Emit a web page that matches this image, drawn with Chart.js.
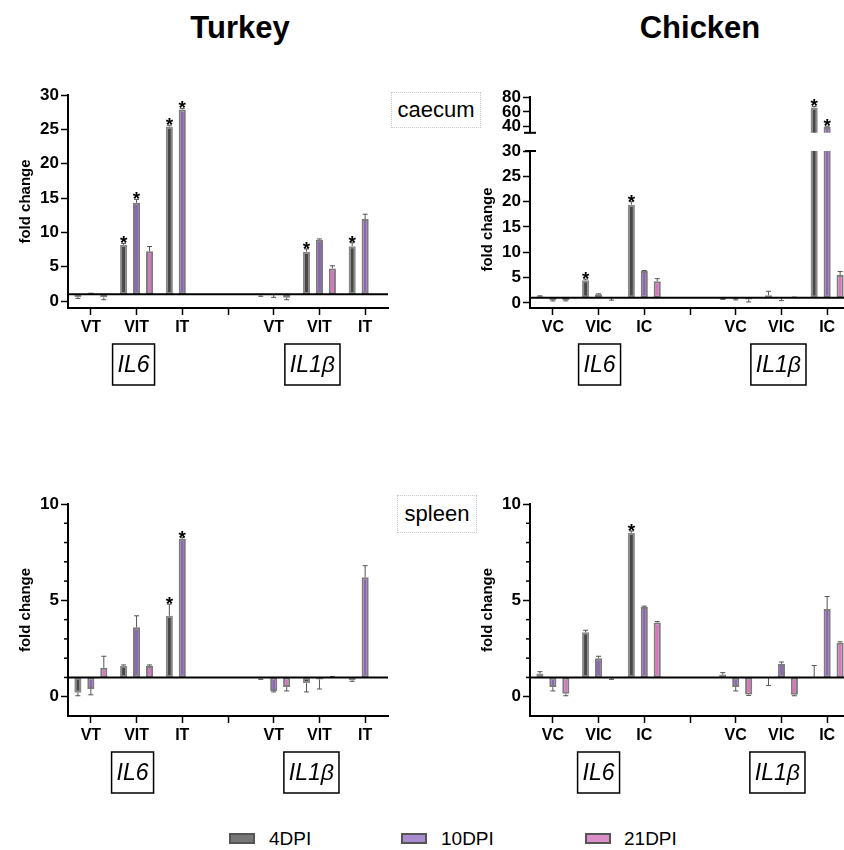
<!DOCTYPE html>
<html><head><meta charset="utf-8">
<script src="https://cdn.jsdelivr.net/npm/chart.js@4/dist/chart.umd.min.js"></script>
<style>
html,body{margin:0;padding:0;background:#fff;}
body{width:844px;height:850px;overflow:hidden;position:relative;font-family:"Liberation Sans",Arial,sans-serif;color:#000;}
.title{position:absolute;top:10px;font-weight:bold;font-size:31px;line-height:36px;transform:translateX(-50%);white-space:nowrap;}
.tissue{position:absolute;border:1px dotted #c8c8c8;font-size:22px;display:flex;align-items:center;justify-content:center;box-sizing:border-box;}
canvas{position:absolute;}
.lbox{position:absolute;width:22px;height:7px;border:2px solid #555;}
.ltxt{position:absolute;font-size:19px;line-height:20px;}
</style>
</head><body>
<div class="title" style="left:240px">Turkey</div>
<div class="title" style="left:700px">Chicken</div>
<div class="tissue" style="left:391px;top:92px;width:90px;height:36px">caecum</div>
<div class="tissue" style="left:397px;top:495px;width:80px;height:38px">spleen</div>

<canvas id="p1" width="400" height="320" style="left:0;top:80px"></canvas>
<canvas id="p2" width="400" height="320" style="left:462px;top:80px"></canvas>
<canvas id="p2top" width="400" height="60" style="left:462px;top:85px"></canvas>
<canvas id="p3" width="400" height="320" style="left:0;top:480px"></canvas>
<canvas id="p4" width="400" height="320" style="left:462px;top:480px"></canvas>

<div id="legend"></div>

<script>
// ---------- data ----------
const turkeyCats = ['VT','VIT','IT','','VT','VIT','IT'];
const chickenCats = ['VC','VIC','IC','','VC','VIC','IC'];
const seriesLabels = ['4DPI','10DPI','21DPI'];
const geneLabels = ['IL6','IL1β'];
const geneCategoryIndex = [1,5];
const BASE = 1;

// Turkey caecum
const tc4    = [0.6, 8.2, 25.4, null, 0.85, 7.2, 8.0];
const tc4Err = [0.2, 0.2, 0.2, null, 0.15, 0.4, 0.5];
const tc4Sig = [0,1,1,0,0,1,1];
const tc10    = [1.1, 14.3, 27.9, null, 0.95, 8.95, 11.95];
const tc10Err = [0.05, 0.5, 0.15, null, 0.4, 0.1, 0.7];
const tc10Sig = [0,1,1,0,0,0,0];
const tc21    = [0.55, 7.25, null, null, 0.5, 4.75, null];
const tc21Err = [0.35, 0.7, null, null, 0.3, 0.4, null];
const tc21Sig = [0,0,0,0,0,0,0];

// Chicken caecum
const cc4    = [1.3, 4.5, 19.4, null, 0.8, 1.5, 66];
const cc4Err = [0.1, 0.2, 0.6, null, 0.1, 0.8, 1.5];
const cc4Sig = [0,1,1,0,0,0,1];
const cc10    = [0.6, 1.7, 6.3, null, 0.8, 0.95, 39.5];
const cc10Err = [0.2, 0.1, 0.1, null, 0.2, 0.5, 1.0];
const cc10Sig = [0,0,0,0,0,0,1];
const cc21    = [0.6, 0.95, 4.3, null, 0.7, 1.1, 5.5];
const cc21Err = [0.2, 0.4, 0.5, null, 0.5, 0.05, 0.7];
const cc21Sig = [0,0,0,0,0,0,0];

// Turkey spleen
const ts4    = [0.2, 1.6, 4.2, null, 0.95, 0.7, 0.85];
const ts4Err = [0.15, 0.05, 0.6, null, 0.05, 0.45, 0.05];
const ts4Sig = [0,0,1,0,0,0,0];
const ts10    = [0.4, 3.6, 8.2, null, 0.3, 0.9, 6.2];
const ts10Err = [0.3, 0.6, 0.05, null, 0.05, 0.5, 0.6];
const ts10Sig = [0,0,1,0,0,0,0];
const ts21    = [1.5, 1.6, null, null, 0.5, 1.02, null];
const ts21Err = [0.6, 0.05, null, null, 0.2, 0.03, null];
const ts21Sig = [0,0,0,0,0,0,0];

// Chicken spleen
const cs4    = [1.2, 3.35, 8.5, null, 1.15, 0.98, 1.02];
const cs4Err = [0.1, 0.1, 0.1, null, 0.1, 0.4, 0.6];
const cs4Sig = [0,0,1,0,0,0,0];
const cs10    = [0.5, 2.0, 4.65, null, 0.5, 1.7, 4.55];
const cs10Err = [0.2, 0.1, 0.05, null, 0.2, 0.1, 0.65];
const cs10Sig = [0,0,0,0,0,0,0];
const cs21    = [0.15, 0.95, 3.85, null, 0.12, 0.1, 2.8];
const cs21Err = [0.1, 0.05, 0.05, null, 0.05, 0.05, 0.05];
const cs21Sig = [0,0,0,0,0,0,0];

// tick labels
const caecumTicks = [0,5,10,15,20,25,30];
const chickenCaecumTopTicks = [40,60,80];
const spleenTicks = [0,5,10];
const spleenMinorTicks = [1,2,3,4,6,7,8,9];

// ---------- style ----------
const FONT = '"Liberation Sans", Arial, sans-serif';
const fills = ['#484848','#8d67b4','#d477bc'];
const borders = ['#8a8a8a','#7c7c7c','#7c7c7c'];
const legendFills = ['#777777','#a88bd0','#dc8ec8'];

function makePlugins(cfg){
  return [{
    id:'custom',
    afterDatasetsDraw(chart){
      const {ctx, chartArea:a, scales:{x,y}} = chart;
      ctx.save();
      chart.data.datasets.forEach((ds,di)=>{
        const meta = chart.getDatasetMeta(di);
        ds.vals.forEach((v,j)=>{
          if(v==null) return;
          const el = meta.data[j];
          const e = ds.errs[j]||0;
          const dir = v>=BASE?1:-1;
          const py0 = y.getPixelForValue(v);
          const py1 = y.getPixelForValue(v+dir*e);
          if(py0 < a.top-1 || py0 > a.bottom+1) return;
          ctx.strokeStyle='#555'; ctx.lineWidth=1;
          ctx.beginPath();
          ctx.moveTo(el.x, py0); ctx.lineTo(el.x, py1);
          ctx.moveTo(el.x-2.5, py1); ctx.lineTo(el.x+2.5, py1);
          ctx.stroke();
          if(ds.sig[j]){
            ctx.fillStyle='#000';
            ctx.font='bold 19px '+FONT;
            ctx.textAlign='center'; ctx.textBaseline='alphabetic';
            ctx.fillText('*', el.x, Math.min(py0,py1)+6);
          }
        });
      });
      if(BASE>=y.min && BASE<=y.max){
        const yb = y.getPixelForValue(BASE);
        ctx.strokeStyle='#000'; ctx.lineWidth=2;
        ctx.beginPath(); ctx.moveTo(a.left, yb); ctx.lineTo(a.right, yb); ctx.stroke();
      }
      ctx.restore();
    },
    afterDraw(chart){
      const {ctx, chartArea:a, scales:{x,y}} = chart;
      ctx.save();
      ctx.strokeStyle='#000';
      if(cfg.minor){
        ctx.lineWidth=1.5;
        cfg.minor.forEach(v=>{
          const py = y.getPixelForValue(v);
          ctx.beginPath(); ctx.moveTo(a.left-4, py); ctx.lineTo(a.left, py); ctx.stroke();
        });
      }
      if(cfg.breakBottom){
        ctx.lineWidth=2;
        ctx.beginPath(); ctx.moveTo(a.left-6, a.bottom); ctx.lineTo(a.left+6, a.bottom); ctx.stroke();
      }
      if(cfg.breakTop){
        ctx.lineWidth=2;
        ctx.beginPath(); ctx.moveTo(a.left-5, a.top); ctx.lineTo(a.left+6, a.top); ctx.stroke();
      }
      if(cfg.genes){
        ctx.font='italic 23px '+FONT;
        ctx.textAlign='center'; ctx.textBaseline='middle';
        geneLabels.forEach((g,i)=>{
          const cx = x.getPixelForTick(geneCategoryIndex[i]) + cfg.geneDx[i];
          const w = ctx.measureText(g).width + 10;
          const top = a.bottom + 36, h = 41;
          ctx.lineWidth=1.5;
          ctx.strokeRect(cx-w/2, top, w, h);
          ctx.fillStyle='#000';
          ctx.fillText(g, cx, top+h/2+1);
        });
      }
      ctx.restore();
    }
  }];
}

function buildChart(id, cfg){
  const showX = cfg.showX !== false;
  const datasets = cfg.series.map((s,i)=>({
    label: seriesLabels[i],
    data: s[0].map(v => v==null ? null : [BASE, v]),
    vals: s[0], errs: s[1], sig: s[2],
    backgroundColor: fills[i], borderColor: borders[i], borderWidth: 2,
    borderSkipped: false, categoryPercentage: 0.85, barPercentage: 0.55, clip: 0
  }));
  return new Chart(document.getElementById(id), {
    type:'bar',
    data:{labels: cfg.labels, datasets},
    options:{
      responsive:false, animation:false, devicePixelRatio:1,
      layout:{padding: cfg.padding},
      plugins:{legend:{display:false}, tooltip:{enabled:false}},
      scales:{
        x:{
          display: showX, offset:true,
          grid:{display:true, offset:false, drawOnChartArea:false, drawTicks:true, tickLength:7, tickWidth:1.5, tickColor:'#000'},
          border:{display:true, color:'#000', width:2},
          ticks:{color:'#000', font:{family:FONT, weight:'bold', size:16}, padding:3, maxRotation:0, autoSkip:false},
          afterFit: s => { if(showX) s.height = 30; }
        },
        y:{
          min: cfg.min, max: cfg.max,
          afterBuildTicks: s => { s.ticks = cfg.ticks.map(v => ({value:v})); },
          grid:{drawOnChartArea:false, drawTicks:true, tickLength:7, tickWidth:1.5, tickColor:'#000'},
          border:{display:true, color:'#000', width:2},
          ticks:{color:'#000', font:{family:FONT, weight:'bold', size:17}, padding:2, autoSkip:false},
          title:{display: cfg.showTitle !== false, text:'fold change', color:'#000',
                 font:{family:FONT, weight:'bold', size:15}, padding:{top:17, bottom:0}},
          afterFit: s => { s.width = 68; }
        }
      }
    },
    plugins: makePlugins(cfg)
  });
}

buildChart('p1', {
  labels: turkeyCats, min:-1, max:30, ticks: caecumTicks,
  series:[[tc4,tc4Err,tc4Sig],[tc10,tc10Err,tc10Sig],[tc21,tc21Err,tc21Sig]],
  padding:{left:0, right:12, top:15, bottom:62}, genes:true, geneDx:[-3,-7]
});
buildChart('p2', {
  labels: chickenCats, min:-1, max:30, ticks: caecumTicks,
  series:[[cc4,cc4Err,cc4Sig],[cc10,cc10Err,cc10Sig],[cc21,cc21Err,cc21Sig]],
  padding:{left:0, right:12, top:71, bottom:62}, genes:true, geneDx:[1,-3], breakTop:true
});
buildChart('p2top', {
  labels: chickenCats, min:31.5, max:80, ticks: chickenCaecumTopTicks,
  series:[[cc4,cc4Err,cc4Sig],[cc10,cc10Err,cc10Sig],[cc21,cc21Err,cc21Sig]],
  padding:{left:0, right:12, top:10.5, bottom:11.5}, showX:false, showTitle:false, breakBottom:true
});
buildChart('p3', {
  labels: turkeyCats, min:-1, max:10, ticks: spleenTicks, minor: spleenMinorTicks,
  series:[[ts4,ts4Err,ts4Sig],[ts10,ts10Err,ts10Sig],[ts21,ts21Err,ts21Sig]],
  padding:{left:0, right:12, top:24, bottom:54}, genes:true, geneDx:[-4,-8]
});
buildChart('p4', {
  labels: chickenCats, min:-1, max:10, ticks: spleenTicks, minor: spleenMinorTicks,
  series:[[cs4,cs4Err,cs4Sig],[cs10,cs10Err,cs10Sig],[cs21,cs21Err,cs21Sig]],
  padding:{left:0, right:12, top:24, bottom:54}, genes:true, geneDx:[0,-4]
});

const legendX = [229, 401, 585];
const legendTextX = [269, 441, 624];
const leg = document.getElementById('legend');
seriesLabels.forEach((s,i)=>{
  const b = document.createElement('div');
  b.className='lbox'; b.style.left=legendX[i]+'px'; b.style.top='833px'; b.style.background=legendFills[i];
  leg.appendChild(b);
  const t = document.createElement('div');
  t.className='ltxt'; t.style.left=legendTextX[i]+'px'; t.style.top='829px'; t.textContent=s;
  leg.appendChild(t);
});
</script>
</body></html>
